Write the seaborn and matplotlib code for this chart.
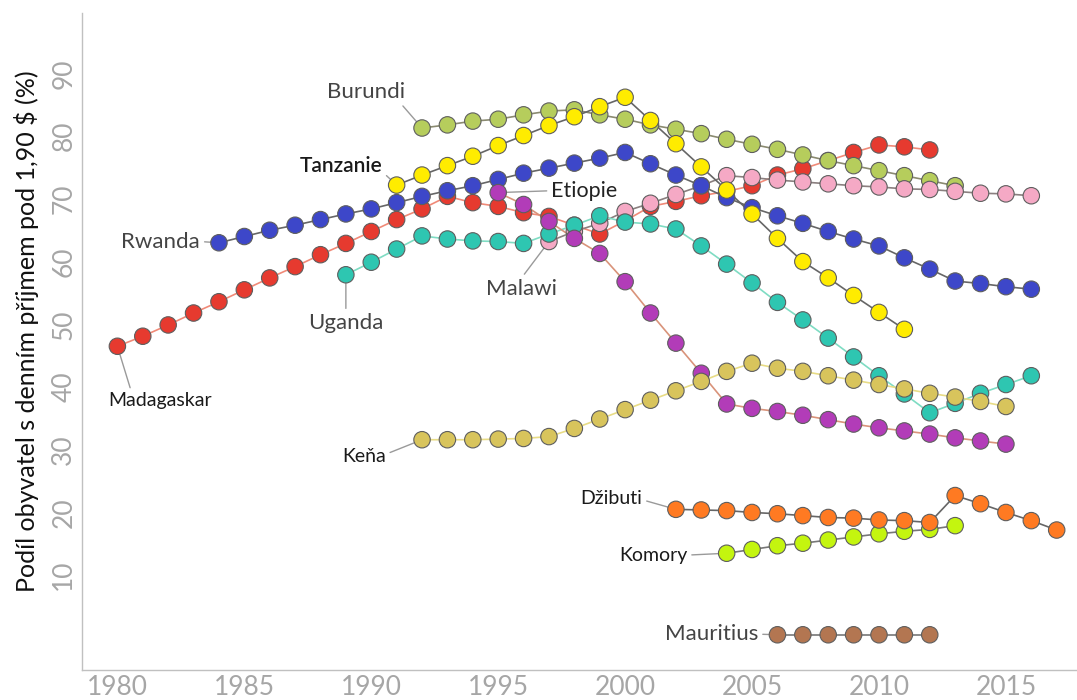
import numpy as np
import pandas as pd
import seaborn as sns
import matplotlib.pyplot as plt

# share of population living on less than 1.90 $ a day (%)
madagaskar = [46.5, 48.1, 49.9, 51.8, 53.6, 55.5, 57.4, 59.2, 61.1, 62.9, 64.8, 66.7, 68.4,
              70.4, 69.4, 68.8, 67.8, 67.2, 65.8, 64.4, 66.5, 68.8, 69.6, 70.5, 71.2, 72.1,
              73.8, 74.8, 76.1, 77.4, 78.6, 78.3, 77.8]
burundi = [81.3, 81.8, 82.4, 82.7, 83.4, 84.0, 84.2, 83.4, 82.7, 81.8, 81.1, 80.4, 79.5,
           78.7, 77.9, 77.0, 76.1, 75.3, 74.5, 73.7, 72.9, 72.1]
malawi = [63.2, 64.8, 66.1, 68.0, 69.3, 70.7, 72.1, 73.7, 73.4, 73.0, 72.7, 72.4, 72.1,
          71.9, 71.6, 71.5, 71.2, 70.9, 70.8, 70.5]
rwanda = [63.0, 64.0, 65.0, 65.8, 66.7, 67.6, 68.4, 69.4, 70.4, 71.3, 72.1, 73.1, 74.1,
          74.9, 75.7, 76.5, 77.4, 75.6, 73.8, 72.1, 70.2, 68.6, 67.3, 66.1, 64.8, 63.6,
          62.5, 60.6, 58.8, 56.9, 56.5, 56.0, 55.6]
tanzanie = [72.2, 73.8, 75.3, 76.8, 78.5, 80.1, 81.7, 83.1, 84.7, 86.2, 82.5, 78.8, 75.1,
            71.4, 67.6, 63.7, 60.0, 57.4, 54.6, 51.9, 49.2]
uganda = [57.9, 59.9, 62.0, 64.1, 63.6, 63.3, 63.2, 62.9, 64.4, 65.8, 67.3, 66.3, 66.0,
          65.2, 62.5, 59.6, 56.6, 53.5, 50.7, 47.8, 44.8, 41.8, 38.9, 35.9, 37.4, 39.0,
          40.4, 41.8]
etiopie = [71.0, 69.1, 66.4, 63.7, 61.3, 56.8, 51.8, 47.0, 42.2, 37.3, 36.6, 36.1, 35.5,
           34.8, 34.1, 33.5, 33.0, 32.5, 31.9, 31.4, 30.9]
kena = [31.6, 31.6, 31.6, 31.7, 31.8, 32.1, 33.4, 34.9, 36.4, 37.9, 39.4, 40.9, 42.5,
        43.8, 43.0, 42.5, 41.8, 41.1, 40.4, 39.7, 39.0, 38.4, 37.7, 36.9]
komory = [13.5, 14.1, 14.7, 15.1, 15.6, 16.1, 16.6, 17.0, 17.3, 17.9]
dzibuti = [20.5, 20.4, 20.3, 20.0, 19.8, 19.5, 19.2, 19.1, 18.8, 18.7, 18.4, 22.7, 21.4,
           20.0, 18.7, 17.2]
mauritius = [0.5, 0.5, 0.5, 0.5, 0.5, 0.5, 0.5]

# country, first year, values (order = drawing order)
series = [
    ('Madagaskar', 1980, madagaskar),
    ('Burundi', 1992, burundi),
    ('Malawi', 1997, malawi),
    ('Rwanda', 1984, rwanda),
    ('Tanzanie', 1991, tanzanie),
    ('Uganda', 1989, uganda),
    ('Etiopie', 1995, etiopie),
    ('Keňa', 1992, kena),
    ('Komory', 2004, komory),
    ('Džibuti', 2002, dzibuti),
    ('Mauritius', 2006, mauritius),
]

rows = []
for name, start, vals in series:
    for i, v in enumerate(vals):
        rows.append({'country': name, 'year': start + i, 'value': v})
df = pd.DataFrame(rows)

dot_colors = {
    'Madagaskar': '#e63a2f', 'Burundi': '#b6cd5c', 'Malawi': '#f5a9c5',
    'Rwanda': '#3d47c9', 'Tanzanie': '#ffec00', 'Uganda': '#2ec6b1',
    'Etiopie': '#b23cb8', 'Keňa': '#d8c45c', 'Komory': '#c4f50f',
    'Džibuti': '#ff7a22', 'Mauritius': '#b37651',
}
line_colors = {
    'Madagaskar': '#f08a78', 'Burundi': '#8a8a70', 'Malawi': '#8a7f7f',
    'Rwanda': '#666666', 'Tanzanie': '#666666', 'Uganda': '#7fdcc3',
    'Etiopie': '#d9937a', 'Keňa': '#e8dc86', 'Komory': '#777777',
    'Džibuti': '#666666', 'Mauritius': '#777777',
}

sns.set_style('white')
plt.rcParams['font.family'] = ['Lato', 'DejaVu Sans']

fig = plt.figure(figsize=(10.77, 7), dpi=100)
ax = fig.add_axes([0.076, 0.043, 0.924, 0.939])

order = [s[0] for s in series]
sns.lineplot(data=df, x='year', y='value', hue='country', hue_order=order,
             palette=line_colors, linewidth=1.2, legend=False, ax=ax, zorder=2)
sns.scatterplot(data=df, x='year', y='value', hue='country', hue_order=order,
                palette=dot_colors, s=140, edgecolor='#5e5e5e', linewidth=0.8,
                legend=False, ax=ax, zorder=3)

ax.set_xlim(1978.6, 2017.8)
ax.set_ylim(-5.1, 99.7)
ax.set_xticks([1980, 1985, 1990, 1995, 2000, 2005, 2010, 2015])
ax.set_yticks([10, 20, 30, 40, 50, 60, 70, 80, 90])
ax.tick_params(axis='both', length=0, labelsize=19, labelcolor='#a6a6a6')
ax.tick_params(axis='y', labelrotation=90, pad=4)
ax.tick_params(axis='x', pad=4)
for t in ax.get_yticklabels():
    t.set_va('center')

sns.despine(ax=ax)
for side in ['left', 'bottom']:
    ax.spines[side].set_color('#c0c0c0')
    ax.spines[side].set_linewidth(1)

ax.set_xlabel('')
ax.set_ylabel('Podíl obyvatel s denním příjmem pod 1,90 $ (%)', fontsize=18,
              color='#111111')
ax.yaxis.set_label_coords(-0.043, 0.515)

# labels with leader lines: (country, year, value, text x, text y, relpos, size, color, weight)
labels = [
    ('Burundi', 1992, 81.3, 1989.8, 87.1, (0.9, 0.1), 16, '#444444', 'normal'),
    ('Tanzanie', 1991, 72.2, 1988.8, 75.3, (1.0, 0.2), 15, '#1a1a1a', 'semibold'),
    ('Rwanda', 1984, 63.0, 1981.7, 63.2, (1.0, 0.5), 16, '#444444', 'normal'),
    ('Madagaskar', 1980, 46.5, 1981.7, 37.8, (0.22, 1.0), 14, '#1a1a1a', 'normal'),
    ('Uganda', 1989, 57.9, 1989.0, 50.2, (0.5, 1.0), 16, '#444444', 'normal'),
    ('Etiopie', 1995, 71.0, 1998.4, 71.3, (0.0, 0.5), 15.5, '#222222', 'normal'),
    ('Malawi', 1997, 63.2, 1995.9, 55.7, (0.5, 1.0), 16, '#444444', 'normal'),
    ('Keňa', 1992, 31.6, 1989.7, 29.0, (1.0, 0.6), 14, '#1a1a1a', 'normal'),
    ('Džibuti', 2002, 20.5, 1999.45, 22.3, (1.0, 0.4), 14, '#1a1a1a', 'normal'),
    ('Komory', 2004, 13.5, 2001.1, 13.2, (1.0, 0.5), 14, '#1a1a1a', 'normal'),
    ('Mauritius', 2006, 0.5, 2003.4, 0.6, (1.0, 0.5), 16, '#444444', 'normal'),
]
for name, x, y, tx, ty, rp, size, col, wt in labels:
    ax.annotate(name, xy=(x, y), xytext=(tx, ty), ha='center', va='center',
                fontsize=size, color=col, fontweight=wt, zorder=1,
                arrowprops=dict(arrowstyle='-', color='#9a9a9a', lw=1,
                                relpos=rp, shrinkA=1, shrinkB=6))

plt.savefig('out.png', dpi=100)
plt.close()
